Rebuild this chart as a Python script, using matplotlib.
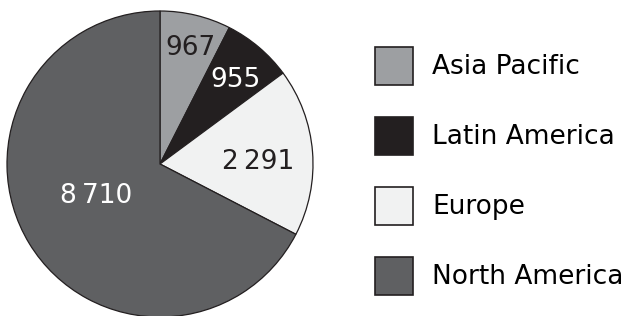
import numpy as np
import matplotlib
matplotlib.use("Agg")
import matplotlib.pyplot as plt
from matplotlib.patches import Patch

# Data
regions = ["Asia Pacific", "Latin America", "Europe", "North America"]
values = [967, 955, 2291, 8710]
value_labels = ["967", "955", "2\u2009291", "8\u2009710"]
colors = ["#9d9fa2", "#231f20", "#f1f2f2", "#5f6062"]
text_colors = ["#231f20", "white", "#231f20", "white"]
label_radius = [0.80, 0.75, 0.645, 0.46]

W, H = 628, 316
fig = plt.figure(figsize=(W / 100, H / 100), dpi=100)
fs = 19

# Pie axes sized so the unit circle fills the drawn disc
cx, cy, r = 160, 164, 153
ax = fig.add_axes([(cx - r) / W, (H - cy - r) / H, 2 * r / W, 2 * r / H])

wedges, _ = ax.pie(values, colors=colors, startangle=90, counterclock=False,
                   radius=1, wedgeprops=dict(edgecolor="#231f20", linewidth=0.9))
for w in wedges:
    w.set_clip_on(False)
ax.set_xlim(-1, 1)
ax.set_ylim(-1, 1)
ax.axis("off")

# Value labels inside the slices (placed a bit before the slice middle)
for w, lab, tc, rf in zip(wedges, value_labels, text_colors, label_radius):
    ang = np.deg2rad(w.theta1 + 0.47 * (w.theta2 - w.theta1))
    ax.text(rf * np.cos(ang), rf * np.sin(ang), lab, color=tc, fontsize=fs,
            ha="center", va="center_baseline")

# Legend
fpx = fs * 100 / 72
hh = (38 - 0.245 * fpx) / (0.65 * fpx)
handles = [Patch(facecolor=c, edgecolor="#231f20", linewidth=1.2) for c in colors]
fig.legend(handles, regions, loc="upper left", bbox_to_anchor=(375 / W, 1 - 47 / H),
           frameon=False, fontsize=fs, handlelength=38 / fpx, handleheight=hh,
           handletextpad=0.72, labelspacing=32 / fpx, borderpad=0, borderaxespad=0)

fig.savefig("out.png", dpi=100)
